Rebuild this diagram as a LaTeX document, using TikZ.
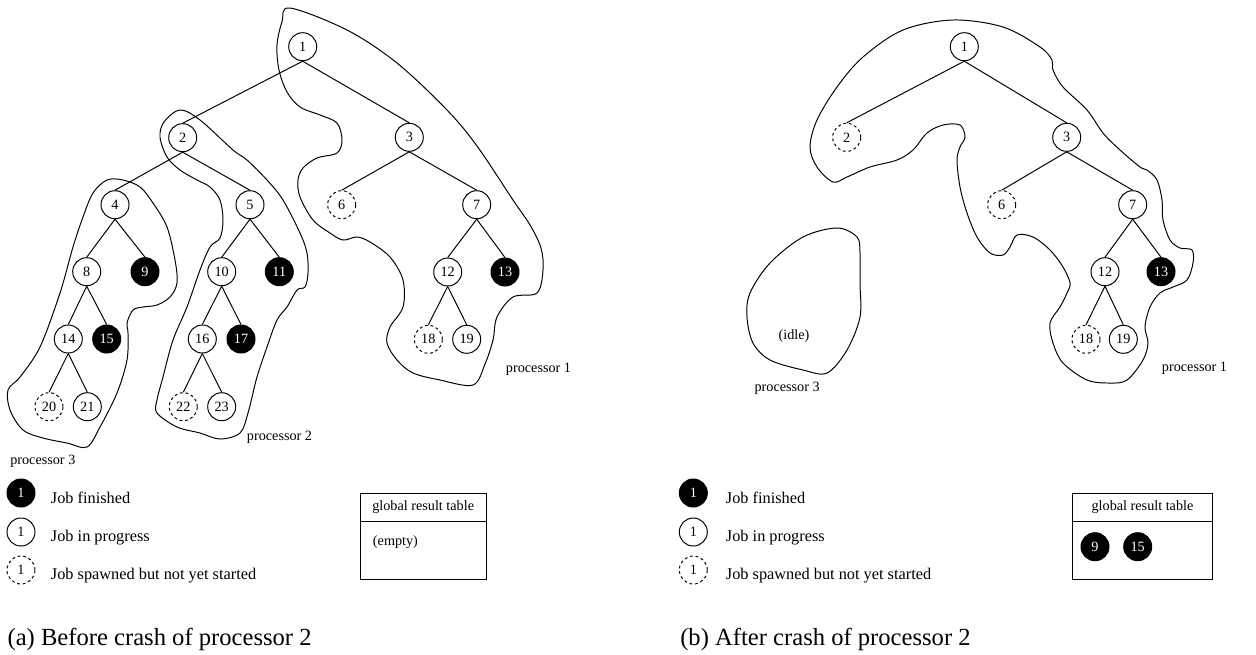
\documentclass[tikz,border=0pt]{standalone}
\usepackage{fontspec}
\setmainfont{Liberation Serif}
\usepackage{tikz}
\tikzstyle{job} = [circle, draw=black, line width=0.7pt, minimum size=0.7cm, inner sep=0pt, font=\fontsize{10.1}{12}\selectfont]
\tikzstyle{done} = [job, fill=black, text=white]
\tikzstyle{running} = [job]
\tikzstyle{spawned} = [job, dash pattern=on 2pt off 2pt]
\tikzstyle{edge} = [line width=0.7pt]
\tikzstyle{region} = [line width=0.7pt]
\tikzstyle{note} = [anchor=base west, inner sep=0pt, font=\fontsize{10.1}{12}\selectfont]
\tikzstyle{legendtext} = [anchor=base west, inner sep=0pt, font=\fontsize{11.6}{14}\selectfont]
\tikzstyle{caption} = [anchor=base west, inner sep=0pt, font=\fontsize{17.5}{21}\selectfont]
\tikzstyle{resbox} = [rectangle, draw=black, line width=0.7pt, minimum height=2.15cm]
\tikzstyle{reshead} = [rectangle, draw=black, line width=0.7pt, minimum height=0.71cm, anchor=north]

\begin{document}
\begin{tikzpicture}[x=0.025cm, y=-0.025cm]
                \useasboundingbox (0,0) rectangle (1256,654);

% ---------------------------------------------
% (a) tree before the crash
% ---------------------------------------------
                \node (a_1) [running] at (302.7,46.7) {1};
                \node (a_2) [running] at (182.7,137.7) {2};
                \node (a_3) [running] at (409.3,137.3) {3};
                \node (a_4) [running] at (115,204.7) {4};
                \node (a_5) [running] at (250,204.7) {5};
                \node (a_6) [spawned] at (341.7,204.7) {6};
                \node (a_7) [running] at (476.7,204.7) {7};
                \node (a_8) [running] at (86.7,271.7) {8};
                \node (a_9) [done] at (145,271.7) {9};
                \node (a_10) [running] at (221.7,271.7) {10};
                \node (a_11) [done] at (279.3,271.7) {11};
                \node (a_12) [running] at (447.7,272) {12};
                \node (a_13) [done] at (505,272) {13};
                \node (a_14) [running] at (68.3,339) {14};
                \node (a_15) [done] at (106.7,339) {15};
                \node (a_16) [running] at (202.3,339) {16};
                \node (a_17) [done] at (241,339) {17};
                \node (a_18) [spawned] at (428.3,339.3) {18};
                \node (a_19) [running] at (466.7,339.3) {19};
                \node (a_20) [spawned] at (49,406.7) {20};
                \node (a_21) [running] at (87.3,406.7) {21};
                \node (a_22) [spawned] at (183.3,406.7) {22};
                \node (a_23) [running] at (221.7,406.7) {23};

                % edges of the tree
                \draw [edge] (a_1.south) -- (a_2.north);
                \draw [edge] (a_1.south) -- (a_3.north);
                \draw [edge] (a_2.south) -- (a_4.north);
                \draw [edge] (a_2.south) -- (a_5.north);
                \draw [edge] (a_3.south) -- (a_6.north);
                \draw [edge] (a_3.south) -- (a_7.north);
                \draw [edge] (a_4.south) -- (a_8.north);
                \draw [edge] (a_4.south) -- (a_9.north);
                \draw [edge] (a_5.south) -- (a_10.north);
                \draw [edge] (a_5.south) -- (a_11.north);
                \draw [edge] (a_7.south) -- (a_12.north);
                \draw [edge] (a_7.south) -- (a_13.north);
                \draw [edge] (a_8.south) -- (a_14.north);
                \draw [edge] (a_8.south) -- (a_15.north);
                \draw [edge] (a_10.south) -- (a_16.north);
                \draw [edge] (a_10.south) -- (a_17.north);
                \draw [edge] (a_12.south) -- (a_18.north);
                \draw [edge] (a_12.south) -- (a_19.north);
                \draw [edge] (a_14.south) -- (a_20.north);
                \draw [edge] (a_14.south) -- (a_21.north);
                \draw [edge] (a_16.south) -- (a_22.north);
                \draw [edge] (a_16.south) -- (a_23.north);

% ---------------------------------------------
% (a) processor regions
% ---------------------------------------------
                \draw [region] plot [smooth cycle, tension=0.55] coordinates {
                    (290,8) (347,30) (397,63) (447,110) (477,146) (513,200) (530,225)
                    (541,248) (543,270) (537,293) (513,297) (497,317) (493,340) (485,364)
                    (473,385) (440,380) (413,373) (397,360) (387,343) (390,327) (403,307)
                    (403,280) (390,257) (370,242) (357,237) (343,240) (330,233) (313,220)
                    (300,197) (298,180) (303,168) (317,158) (337,153) (342,140) (337,123)
                    (320,115) (300,107) (287,92) (279,70) (277,45) (282,22)};
                \draw [region] plot [smooth cycle, tension=0.55] coordinates {
                    (180,110) (200,120) (233,150) (247,160) (267,180) (283,200) (300,233)
                    (307,253) (308,273) (305,287) (297,290) (287,307) (277,320) (267,347)
                    (257,377) (248,413) (240,433) (220,439) (200,433) (177,427) (157,413)
                    (157,400) (163,377) (173,340) (187,307) (200,270) (210,247) (220,238)
                    (223,220) (220,200) (210,187) (197,180) (180,170) (167,157) (160,137)
                    (164,122)};
                \draw [region] plot [smooth cycle, tension=0.55] coordinates {
                    (123,180) (140,187) (153,203) (167,227) (175,260) (177,283) (170,297)
                    (157,305) (143,307) (133,310) (127,323) (128,333) (127,360) (117,393)
                    (100,427) (87,447) (67,443) (43,438) (23,430) (10,410) (8,390)
                    (20,377) (40,347) (60,293) (73,247) (83,217) (93,193) (107,180)};

                \node (lbl_a1) [note] at (505.7,372.7) {processor 1};
                \node (lbl_a2) [note] at (246.7,440) {processor 2};
                \node (lbl_a3) [note] at (10,464) {processor 3};

% ---------------------------------------------
% (a) legend and result table
% ---------------------------------------------
                \node (key_a1) [done] at (21,493) {1};
                \node (key_a2) [running] at (21,532) {1};
                \node (key_a3) [spawned] at (21,570) {1};
                \node (txt_a1) [legendtext] at (50.7,503.3) {Job finished};
                \node (txt_a2) [legendtext] at (50.7,541.3) {Job in progress};
                \node (txt_a3) [legendtext] at (50.7,579.3) {Job spawned but not yet started};

                \node (tab_a) [resbox, minimum width=3.14cm] at (423.2,536.3) {};
                \node (head_a) [reshead, minimum width=3.14cm, font=\fontsize{10.1}{12}\selectfont] at (tab_a.north) {global result table};
                \node (empty_a) [note] at (372.7,545) {(empty)};

                \node (cap_a) [caption] at (7.3,645) {(a) Before crash of processor 2};

% ---------------------------------------------
% (b) tree after the crash
% ---------------------------------------------
                \node (b_1) [running] at (964.3,46.7) {1};
                \node (b_2) [spawned] at (846.7,137.3) {2};
                \node (b_3) [running] at (1066.7,137.3) {3};
                \node (b_6) [spawned] at (1001.7,204.7) {6};
                \node (b_7) [running] at (1132.7,204.7) {7};
                \node (b_12) [running] at (1105,271.7) {12};
                \node (b_13) [done] at (1161,271.7) {13};
                \node (b_18) [spawned] at (1086,339.3) {18};
                \node (b_19) [running] at (1123.3,339.3) {19};

                % edges of the tree
                \draw [edge] (b_1.south) -- (b_2.north);
                \draw [edge] (b_1.south) -- (b_3.north);
                \draw [edge] (b_3.south) -- (b_6.north);
                \draw [edge] (b_3.south) -- (b_7.north);
                \draw [edge] (b_7.south) -- (b_12.north);
                \draw [edge] (b_7.south) -- (b_13.north);
                \draw [edge] (b_12.south) -- (b_18.north);
                \draw [edge] (b_12.south) -- (b_19.north);

% ---------------------------------------------
% (b) processor regions
% ---------------------------------------------
                \draw [region] plot [smooth cycle, tension=0.55] coordinates {
                    (953,20) (1003,27) (1040,47) (1052,60) (1053,70) (1063,87) (1087,110)
                    (1103,133) (1120,150) (1140,167) (1147,170) (1157,180) (1162,200)
                    (1163,220) (1170,240) (1180,248) (1192,250) (1193,263) (1187,280)
                    (1173,287) (1160,293) (1150,307) (1145,327) (1148,343) (1143,360)
                    (1127,380) (1110,383) (1087,380) (1063,363) (1053,343) (1050,323)
                    (1060,307) (1067,293) (1070,283) (1063,267) (1050,250) (1033,237)
                    (1017,235) (1010,247) (1003,255) (990,253) (977,237) (967,213)
                    (960,187) (957,160) (960,147) (965,137) (960,125) (943,125) (927,133)
                    (913,150) (897,160) (870,167) (847,177) (833,182) (817,167) (810,147)
                    (817,120) (837,87) (863,57) (903,30)};
                \draw [region] plot [smooth cycle, tension=0.55] coordinates {
                    (837,228) (857,237) (860,253) (860,283) (860,317) (847,350) (827,373)
                    (803,370) (770,360) (753,343) (747,317) (750,293) (770,263) (803,237)};

                \node (lbl_b1) [note] at (1161.7,371.7) {processor 1};
                \node (lbl_b3) [note] at (754.3,391.7) {processor 3};
                \node (idle_b) [note] at (778.3,339.3) {(idle)};

% ---------------------------------------------
% (b) legend and result table
% ---------------------------------------------
                \node (key_b1) [done] at (693.3,493) {1};
                \node (key_b2) [running] at (693.3,532) {1};
                \node (key_b3) [spawned] at (693.3,570) {1};
                \node (txt_b1) [legendtext] at (725.7,503.3) {Job finished};
                \node (txt_b2) [legendtext] at (725.7,541.3) {Job in progress};
                \node (txt_b3) [legendtext] at (725.7,579.3) {Job spawned but not yet started};

                \node (tab_b) [resbox, minimum width=3.51cm] at (1142.5,536.3) {};
                \node (head_b) [reshead, minimum width=3.51cm, font=\fontsize{10.1}{12}\selectfont] at (tab_b.north) {global result table};
                \node (res_b1) [done] at (1095,546.7) {9};
                \node (res_b2) [done] at (1137.7,546.7) {15};

                \node (cap_b) [caption] at (680,645) {(b) After crash of processor 2};

\end{tikzpicture}
\end{document}
